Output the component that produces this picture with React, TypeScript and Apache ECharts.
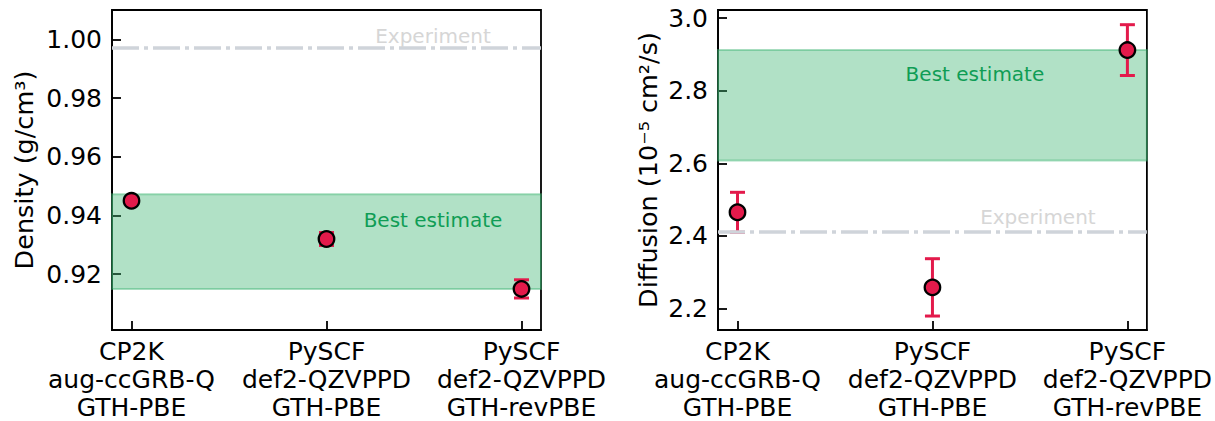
import React, { useEffect, useRef } from "react";
import * as echarts from "echarts";

// ---- data ----
const codes = ["CP2K", "PySCF", "PySCF"];
const basisSets = ["aug-ccGRB-Q", "def2-QZVPPD", "def2-QZVPPD"];
const functionals = ["GTH-PBE", "GTH-PBE", "GTH-revPBE"];
const xPos = [0, 1, 2];

const densityValues = [0.945, 0.932, 0.915];
const densityErrors = [0.0008, 0.0022, 0.0031];
const densityExperiment = 0.997;
const densityBest = [0.915, 0.9472];
const densityTicks = [0.92, 0.94, 0.96, 0.98, 1.0];
const densityRange = [0.901, 1.0100];

const diffusionValues = [2.465, 2.258, 2.912];
const diffusionErrors = [0.055, 0.079, 0.07];
const diffusionExperiment = 2.411;
const diffusionBest = [2.608, 2.912];
const diffusionTicks = [2.2, 2.4, 2.6, 2.8, 3.0];
const diffusionRange = [2.1405, 3.0225];

// annotation anchors (data coordinates)
const densityNotes = [
  [1.546, 1.0013, "Experiment"],
  [1.546, 0.9385, "Best estimate"],
];
const diffusionNotes = [
  [1.541, 2.451, "Experiment"],
  [1.218, 2.846, "Best estimate"],
];

const FONT = "DejaVu Sans";
const RED = "#e31a4b";
const GREEN_FILL = "rgba(60,179,113,0.4)";
const GREEN_TEXT = "#0f9d55";
const EXP_COLOR = "#cfd4da";
const EXP_TEXT = "#d6d6d6";

const xLabels = codes.map((c, i) => `${c}\n${basisSets[i]}\n${functionals[i]}`);

function xAxisFor(gridIndex: number) {
  return {
    type: "value",
    gridIndex,
    min: -0.1,
    max: 2.1,
    axisLine: { show: true, onZero: false, lineStyle: { color: "#000", width: 1.8 } },
    splitLine: { show: false },
    axisTick: {
      show: true,
      inside: true,
      length: 9,
      customValues: xPos,
      lineStyle: { color: "#000", width: 1.8 },
    },
    axisLabel: {
      customValues: xPos,
      formatter: (v: number) => xLabels[Math.round(v)],
      fontFamily: FONT,
      fontSize: 25,
      lineHeight: 28,
      color: "#000",
      margin: 7,
    },
  };
}

function yAxisFor(gridIndex: number, range: number[], ticks: number[], digits: number, name: string, nameGap: number) {
  return {
    type: "value",
    gridIndex,
    position: "left",
    min: range[0],
    max: range[1],
    name,
    nameLocation: "middle",
    nameGap,
    nameTextStyle: { fontFamily: FONT, fontSize: 25.5, color: "#000" },
    axisLine: { show: true, onZero: false, lineStyle: { color: "#000", width: 1.8 } },
    splitLine: { show: false },
    axisTick: {
      show: true,
      inside: true,
      length: 9,
      customValues: ticks,
      lineStyle: { color: "#000", width: 1.8 },
    },
    axisLabel: {
      customValues: ticks,
      formatter: (v: number) => v.toFixed(digits),
      fontFamily: FONT,
      fontSize: 25,
      color: "#000",
      margin: 10,
    },
  };
}

function errorSeries(idx: number, values: number[], errors: number[], band: number[], exp: number) {
  return {
    type: "custom",
    xAxisIndex: idx,
    yAxisIndex: idx,
    silent: true,
    z: 3,
    encode: { x: 0, y: [1, 2, 3] },
    data: values.map((v, i) => [xPos[i], v, v - errors[i], v + errors[i]]),
    renderItem: (params: any, api: any) => {
      const x = api.value(0);
      const pLo = api.coord([x, api.value(2)]);
      const pHi = api.coord([x, api.value(3)]);
      const cap = 7.5;
      const style = { stroke: RED, lineWidth: 3 };
      return {
        type: "group",
        children: [
          { type: "line", shape: { x1: pLo[0], y1: pLo[1], x2: pHi[0], y2: pHi[1] }, style },
          { type: "line", shape: { x1: pLo[0] - cap, y1: pLo[1], x2: pLo[0] + cap, y2: pLo[1] }, style },
          { type: "line", shape: { x1: pHi[0] - cap, y1: pHi[1], x2: pHi[0] + cap, y2: pHi[1] }, style },
        ],
      };
    },
    markArea: {
      silent: true,
      itemStyle: { color: GREEN_FILL, borderColor: "rgba(60,179,113,0.45)", borderWidth: 2 },
      data: [[{ yAxis: band[0] }, { yAxis: band[1] }]],
    },
    markLine: {
      silent: true,
      symbol: "none",
      precision: 6,
      label: { show: false },
      lineStyle: { color: EXP_COLOR, width: 3.5, type: [27, 5, 4, 5] },
      data: [{ yAxis: exp }],
    },
  };
}

function pointSeries(idx: number, values: number[]) {
  return {
    type: "scatter",
    xAxisIndex: idx,
    yAxisIndex: idx,
    silent: true,
    z: 5,
    symbol: "circle",
    symbolSize: 15.5,
    itemStyle: { color: RED, borderColor: "#000", borderWidth: 2.3, opacity: 1 },
    data: values.map((v, i) => [xPos[i], v]),
  };
}

function noteSeries(idx: number, notes: any[]) {
  return {
    type: "scatter",
    xAxisIndex: idx,
    yAxisIndex: idx,
    silent: true,
    z: 8,
    symbolSize: 0,
    data: notes.map((n) => ({
      value: [n[0], n[1]],
      name: n[2],
      label: { color: n[2] === "Experiment" ? EXP_TEXT : GREEN_TEXT },
    })),
    label: {
      show: true,
      position: "inside",
      formatter: (p: any) => p.name,
      fontFamily: FONT,
      fontSize: 20,
      textBorderWidth: 0,
      textBorderColor: "transparent",
      opacity: 1,
    },
    labelLayout: { hideOverlap: false },
    itemStyle: { color: "transparent" },
  };
}

export default function App() {
  const ref = useRef<HTMLDivElement>(null);
  useEffect(() => {
    if (!ref.current) return;
    const chart = echarts.init(ref.current, null, { renderer: "svg" });
    chart.setOption({
      animation: false,
      backgroundColor: "#fff",
      textStyle: { fontFamily: FONT },
      grid: [
        { left: 112, top: 10, width: 429, height: 326, show: true, borderColor: "#000", borderWidth: 1.8, backgroundColor: "transparent" },
        { left: 718, top: 10, width: 429, height: 326, show: true, borderColor: "#000", borderWidth: 1.8, backgroundColor: "transparent" },
      ],
      xAxis: [xAxisFor(0), xAxisFor(1)],
      yAxis: [
        yAxisFor(0, densityRange, densityTicks, 2, "Density (g/cm³)", 75),
        yAxisFor(1, diffusionRange, diffusionTicks, 1, "Diffusion (10⁻⁵ cm²/s)", 57),
      ],
      series: [
        errorSeries(0, densityValues, densityErrors, densityBest, densityExperiment),
        pointSeries(0, densityValues),
        noteSeries(0, densityNotes),
        errorSeries(1, diffusionValues, diffusionErrors, diffusionBest, diffusionExperiment),
        pointSeries(1, diffusionValues),
        noteSeries(1, diffusionNotes),
      ],
    });
    return () => chart.dispose();
  }, []);
  return (
    <div
      ref={ref}
      style={{ position: "absolute", left: 0, top: 0, width: 1215, height: 421, background: "#fff" }}
    />
  );
}
